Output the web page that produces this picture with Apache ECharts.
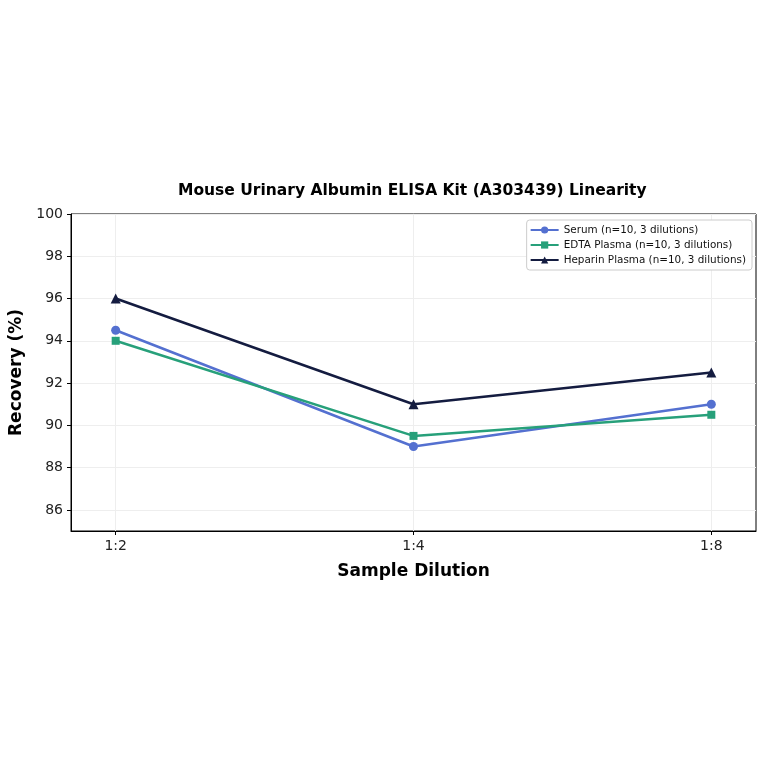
<!DOCTYPE html>
<html>
<head>
<meta charset="utf-8">
<script src="https://cdn.jsdelivr.net/npm/echarts@6/dist/echarts.min.js"></script>
<style>
  html, body { margin: 0; padding: 0; background: #fff; }
  #chart { width: 764px; height: 764px; }
</style>
</head>
<body>
<div id="chart"></div>
<script>
var dilutions = ['1:2', '1:4', '1:8'];
var serum = [94.5, 89.0, 91.0];
var edta = [94.0, 89.5, 90.5];
var heparin = [96.0, 91.0, 92.5];
var yTicks = [86, 88, 90, 92, 94, 96, 98, 100];

function toPoints(values) {
  return values.map(function (v, i) { return [i, v]; });
}

var myChart = echarts.init(document.getElementById('chart'));
var font = 'DejaVu Sans';
var option = {
  textStyle: { fontFamily: font },
  title: {
    text: 'Mouse Urinary Albumin ELISA Kit (A303439) Linearity',
    left: 178,
    top: 183,
    padding: 0,
    textStyle: { fontFamily: font, fontSize: 15.5, fontWeight: 'bold', color: '#000' }
  },
  legend: {
    orient: 'vertical',
    right: 12,
    top: 220,
    itemWidth: 28,
    itemHeight: 9,
    itemGap: 5,
    padding: [5, 6, 5, 3],
    backgroundColor: '#fff',
    borderColor: '#ccc',
    borderWidth: 1,
    borderRadius: 3,
    textStyle: { fontFamily: font, fontSize: 10.4, color: '#111' },
    data: ['Serum (n=10, 3 dilutions)', 'EDTA Plasma (n=10, 3 dilutions)', 'Heparin Plasma (n=10, 3 dilutions)']
  },
  grid: {
    left: 70, right: 8, top: 214, bottom: 233,
    show: true, borderColor: '#000', borderWidth: 1
  },
  xAxis: {
    type: 'value',
    min: -0.15,
    max: 2.15,
    name: 'Sample Dilution',
    nameLocation: 'middle',
    nameGap: 32,
    nameTextStyle: { fontFamily: font, fontSize: 17, fontWeight: 'bold', color: '#000' },
    axisLine: { show: true, onZero: false, lineStyle: { color: '#000' } },
    axisTick: { show: true, customValues: [0, 1, 2], length: 4, lineStyle: { color: '#000' } },
    axisLabel: {
      customValues: [0, 1, 2],
      fontSize: 14, color: '#222', margin: 8,
      formatter: function (v) { return dilutions[Math.round(v)]; }
    },
    splitLine: { show: true, lineStyle: { color: '#eee' } }
  },
  yAxis: {
    type: 'value',
    min: 85,
    max: 100,
    name: 'Recovery (%)',
    nameLocation: 'middle',
    nameGap: 46,
    nameTextStyle: { fontFamily: font, fontSize: 17, fontWeight: 'bold', color: '#000' },
    axisLine: { show: true, onZero: false, lineStyle: { color: '#000' } },
    axisTick: { show: true, customValues: yTicks, length: 4, lineStyle: { color: '#000' } },
    axisLabel: { customValues: yTicks, fontSize: 14, color: '#222', margin: 8 },
    splitLine: { show: true, lineStyle: { color: '#eee' } }
  },
  series: [
    {
      name: 'Serum (n=10, 3 dilutions)',
      type: 'line',
      data: toPoints(serum),
      symbol: 'circle',
      symbolSize: 9,
      color: '#5470d0',
      lineStyle: { width: 2.5 }
    },
    {
      name: 'EDTA Plasma (n=10, 3 dilutions)',
      type: 'line',
      data: toPoints(edta),
      symbol: 'rect',
      symbolSize: 8,
      color: '#27a07a',
      lineStyle: { width: 2.5 }
    },
    {
      name: 'Heparin Plasma (n=10, 3 dilutions)',
      type: 'line',
      data: toPoints(heparin),
      symbol: 'triangle',
      symbolSize: 10,
      color: '#141c40',
      lineStyle: { width: 2.5 }
    }
  ]
};
myChart.setOption(option);
</script>
</body>
</html>
